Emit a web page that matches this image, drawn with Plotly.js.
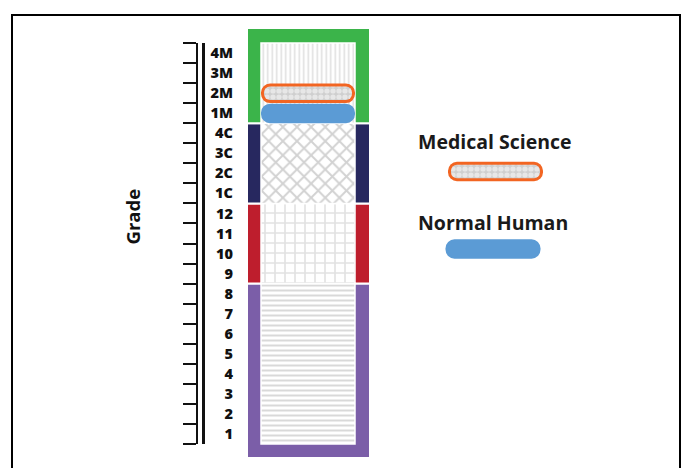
<!DOCTYPE html>
<html><head><meta charset="utf-8">
<script src="https://cdn.plot.ly/plotly-3.0.1.min.js"></script>
<style>html,body{margin:0;padding:0;background:#fff}#chart{width:682px;height:468px}</style>
</head><body><div id="chart"></div>
<script>
// ---- data ----
const gradeLabels = ['1','2','3','4','5','6','7','8','9','10','11','12','1C','2C','3C','4C','1M','2M','3M','4M'];
const stageNames  = ['Grades 1-8','Grades 9-12','College','Medical School'];
const stageStart  = [0, 8, 12, 16];
const stageEnd    = [8, 12, 16, 20];
const stageColors = ['#7b5ea8','#be1e2d','#27285f','#3bb44a'];
const stagePatterns = ['-','+','x','|'];
const levelNames  = ['Medical Science','Normal Human'];
const levelGrades = ['2M','1M'];
const levelColors = ['#f26522','#5b9bd5'];

// ---- geometry / style ----
const W = 682, H = 468, MT = 28, MB = 10;
const YMIN = -0.7, YMAX = 20.75;
const PXU = (H - MT - MB) / (YMAX - YMIN);          // pixels per grade
const COL_X = 308.5, OUTER_W = 123, INNER_W = 94, INNER_X = 308;
const PILL_T = 19.5;                                  // pill thickness, px
const FONT = 'Open Sans';
const nG = gradeLabels.length;

function pxToY(py){ return YMIN + (H - MB - py) / PXU; }

// outer coloured frame
const outerBase = stageStart.map((s,i)=> i===0 ? YMIN : s);
const outerTop  = stageEnd.map((e,i)=> i===stageEnd.length-1 ? YMAX : e);
const traces = [];
traces.push({
  type:'bar', orientation:'v', x: stageNames.map(()=>COL_X), base: outerBase,
  y: outerTop.map((t,i)=>t-outerBase[i]), width: OUTER_W,
  marker:{color: stageColors, line:{color:'#fff', width:2}},
  hoverinfo:'skip', showlegend:false
});
// inner patterned column
traces.push({
  type:'bar', orientation:'v', x: stageNames.map(()=>INNER_X), base: stageStart,
  y: stageEnd.map((e,i)=>e-stageStart[i]), width: INNER_W,
  marker:{color:'#ffffff', line:{color:'#fff', width:1.5},
    pattern:{shape: stagePatterns, fillmode:'overlay', bgcolor:'#ffffff',
      fgcolor:['#b3b3b3','#c4c4c4','#a6a6a6','#c2c2c2'],
      size:[5, 10, 10, 4.5], solidity:[0.4, 0.3, 0.36, 0.35]}},
  hoverinfo:'skip', showlegend:false
});

function pill(cx, cy, half, thickPx, color, pattern){
  const t = {
    type:'bar', orientation:'h', y:[cy], base:[cx - half], x:[2*half],
    width: thickPx / PXU,
    marker:{color: color, cornerradius: thickPx/2, line:{width:0}},
    hoverinfo:'skip', showlegend:false
  };
  if (pattern) t.marker.pattern = pattern;
  return t;
}
const dotPattern = {shape:'.', fillmode:'overlay', fgcolor:'#ffffff', bgcolor:'#cfcfcf', size:6, solidity:0.6};
function levelPill(i, cx, cy, half){
  if (i === 0) {
    return [pill(cx, cy, half, PILL_T, levelColors[0]),
            pill(cx, cy, half-3, PILL_T-6, '#cfcfcf', dotPattern)];
  }
  return [pill(cx, cy, half, PILL_T, levelColors[i])];
}
levelGrades.forEach((g,i)=>{
  const idx = gradeLabels.indexOf(g);
  levelPill(i, INNER_X, idx + 0.49, INNER_W/2).forEach(t=>traces.push(t));
});
const legPillX = [495.5, 493];
const legTextX = [495, 492.5];
const legPillY = [pxToY(171.5), pxToY(249)];
const legTextY = [pxToY(141), pxToY(222)];
levelNames.forEach((n,i)=>{
  levelPill(i, legPillX[i], legPillY[i], 47.5).forEach(t=>traces.push(t));
});

traces.push({type:'scatter', mode:'markers', x:[COL_X, COL_X], y:[0, nG], yaxis:'y2',
  marker:{opacity:0}, hoverinfo:'skip', showlegend:false});
traces.push({type:'scatter', mode:'markers', x:[COL_X, COL_X], y:[0, nG], yaxis:'y3',
  marker:{opacity:0}, hoverinfo:'skip', showlegend:false});

const dom = [(0 - YMIN)/(YMAX-YMIN), (nG - YMIN)/(YMAX-YMIN)];
const annotations = [
  {text:'Grade', x:131.5, y:pxToY(217), xref:'x', yref:'y', textangle:-90, showarrow:false,
   font:{family:FONT, size:18.5, color:'#111', weight:700}},
];
levelNames.forEach((n,i)=>{
  annotations.push({text:n, x:legTextX[i], y:legTextY[i], xref:'x', yref:'y', showarrow:false,
   font:{family:FONT, size:19.5, color:'#1a1a1a', weight:700}});
});

const layout = {
  width:W, height:H, margin:{l:0, r:0, t:MT, b:MB, pad:0},
  paper_bgcolor:'#fff', plot_bgcolor:'rgba(0,0,0,0)', barmode:'overlay', showlegend:false,
  hovermode:false,
  xaxis:{range:[0, W], visible:false, fixedrange:true},
  yaxis:{range:[YMIN, YMAX], anchor:'free', position:233/W, side:'left',
    tickvals: gradeLabels.map((_,i)=>i+0.5), ticktext: gradeLabels,
    ticks:'', showline:false, showgrid:false, zeroline:false,
    tickfont:{family:FONT, size:14.5, color:'#111', weight:800}},
  yaxis2:{domain:dom, range:[0, nG], anchor:'free', position:197/W, side:'left',
    showline:true, linecolor:'#111', linewidth:2, ticks:'outside', ticklen:13, tickwidth:2,
    tickcolor:'#111', tickvals: gradeLabels.map((_,i)=>i).concat([nG]),
    showticklabels:false, showgrid:false, zeroline:false},
  yaxis3:{domain:dom, range:[0, nG], anchor:'free', position:203/W, side:'left',
    showline:true, linecolor:'#111', linewidth:3, ticks:'',
    showticklabels:false, showgrid:false, zeroline:false},
  shapes:[{type:'rect', xref:'paper', yref:'paper', x0:12/W, x1:680/W,
    y0:-0.2, y1:(H-MB-15)/(H-MT-MB), line:{color:'#000', width:2}, fillcolor:'rgba(0,0,0,0)'}],
  annotations: annotations
};
Plotly.newPlot('chart', traces, layout, {staticPlot:true, displayModeBar:false});
</script></body></html>
